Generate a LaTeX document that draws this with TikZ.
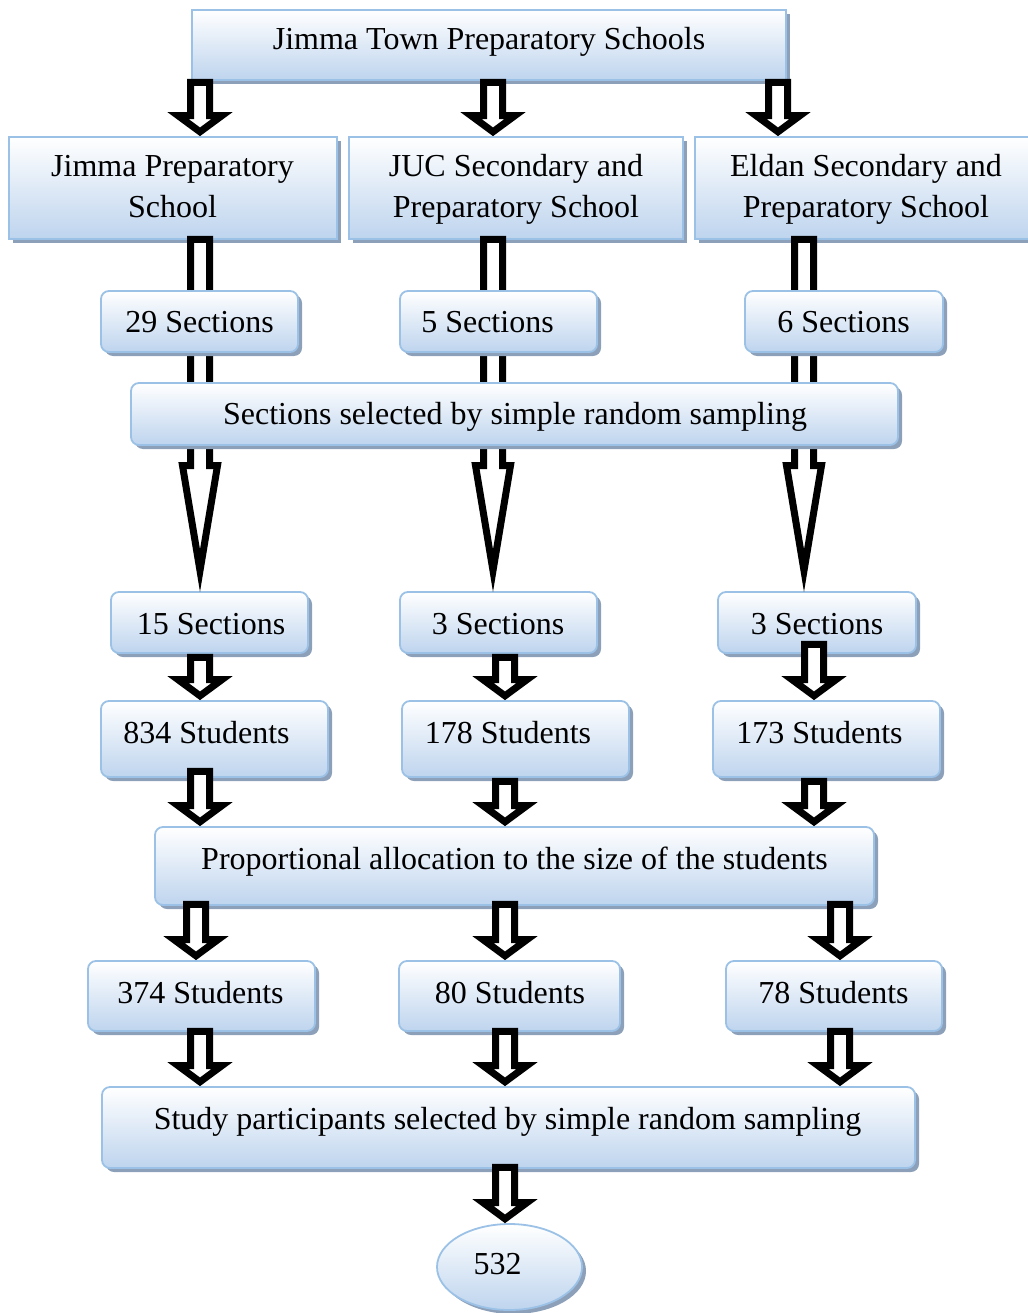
\documentclass[tikz,border=0pt]{standalone}
\usepackage{fontspec}
\setmainfont{Liberation Serif}
\usetikzlibrary{shadows,shapes.geometric,calc}
\definecolor{bbord}{RGB}{155,194,230}
\definecolor{bbot}{RGB}{190,212,238}
\definecolor{bshad}{RGB}{140,160,186}
\tikzset{
  boxbase/.style={draw=bbord, line width=1.8pt, top color=white, bottom color=bbot, inner sep=0pt,
    drop shadow={shadow xshift=4pt, shadow yshift=-4pt, fill=bshad, opacity=1}},
  sqbox/.style={boxbase, rectangle},
  rdbox/.style={boxbase, rectangle, rounded corners=8pt},
  ovbox/.style={boxbase, ellipse},
  txt/.style={font=\fontsize{32}{38}\selectfont, anchor=base, inner sep=0pt},
  barr/.style={draw=black, fill=white, line width=7pt, line join=miter},
}
% short block arrow: #1 x, #2 source node, #3 target node, #4 overlap into source
\newcommand\sarrow[4]{%
  \draw[barr] let \p1=(#2.south), \p2=(#3.north) in
    ({#1pt-9.5pt},{\y1+#4pt-3.5pt}) -- ({#1pt+9.5pt},{\y1+#4pt-3.5pt})
    -- ({#1pt+9.5pt},{\y2+20.5pt}) -- ({#1pt+22pt},{\y2+20.5pt})
    -- ({#1pt},{\y2+4.3pt})
    -- ({#1pt-22pt},{\y2+20.5pt}) -- ({#1pt-9.5pt},{\y2+20.5pt}) -- cycle;}
% long block arrow: #1 x, #2 source node, #3 target node
\newcommand\larrow[3]{%
  \draw[barr] let \p1=(#2.south), \p2=(#3.north) in
    ({#1pt-9.5pt},{\y1+0.5pt}) -- ({#1pt+9.5pt},{\y1+0.5pt})
    -- ({#1pt+9.5pt},{\y2+125.5pt}) -- ({#1pt+17.5pt},{\y2+125.5pt})
    -- ({#1pt},{\y2+20.5pt})
    -- ({#1pt-17.5pt},{\y2+125.5pt}) -- ({#1pt-9.5pt},{\y2+125.5pt}) -- cycle;}
\begin{document}
\begin{tikzpicture}[x=1pt,y=-1pt]
\useasboundingbox (0,0) rectangle (1027,1313);
% level 1 and schools
\node[sqbox, minimum width=594pt, minimum height=70pt] (top) at (489,45) {};
\node[sqbox, minimum width=328pt, minimum height=102pt] (s1) at (173,188) {};
\node[sqbox, minimum width=334pt, minimum height=102pt] (s2) at (516,188) {};
\node[sqbox, minimum width=334pt, minimum height=102pt] (s3) at (862,188) {};
\node[txt] (ttop) at (489,50) {Jimma Town Preparatory Schools};
\node[txt] (ts1a) at (172.5,177) {Jimma Preparatory};
\node[txt] (ts1b) at (172.5,218) {School};
\node[txt] (ts2a) at (516,177) {JUC Secondary and};
\node[txt] (ts2b) at (516,218) {Preparatory School};
\node[txt] (ts3a) at (866,177) {Eldan Secondary and};
\node[txt] (ts3b) at (866,218) {Preparatory School};
\sarrow{200}{top}{s1}{2}
\sarrow{493}{top}{s2}{2}
\sarrow{778}{top}{s3}{2}
% selected sections boxes
\node[rdbox, minimum width=197pt, minimum height=61pt] (c15) at (209.5,622.5) {};
\node[rdbox, minimum width=197pt, minimum height=61pt] (c3a) at (498.5,622.5) {};
\node[rdbox, minimum width=198pt, minimum height=61pt] (c3b) at (817,622.5) {};
\node[txt] (tc15) at (211,634) {15 Sections};
\node[txt] (tc3a) at (498,634) {3 Sections};
\node[txt] (tc3b) at (817,634) {3 Sections};
% long arrows behind section boxes
\larrow{200}{s1}{c15}
\larrow{493}{s2}{c3a}
\larrow{804}{s3}{c3b}
% section counts
\node[rdbox, minimum width=197pt, minimum height=61pt] (c29) at (199.5,321.5) {};
\node[rdbox, minimum width=197pt, minimum height=61pt] (c5) at (498.5,321.5) {};
\node[rdbox, minimum width=198pt, minimum height=61pt] (c6) at (844,321.5) {};
\node[txt] (tc29) at (199.5,332) {29 Sections};
\node[txt] (tc5) at (487.5,332) {5 Sections};
\node[txt] (tc6) at (843.5,332) {6 Sections};
\node[rdbox, minimum width=767pt, minimum height=62pt] (sel) at (514.5,414) {};
\node[txt] (tsel) at (515,424) {Sections selected by simple random sampling};
% students
\node[rdbox, minimum width=227pt, minimum height=76pt] (n834) at (214.5,739) {};
\node[rdbox, minimum width=227pt, minimum height=76pt] (n178) at (515.5,739) {};
\node[rdbox, minimum width=227pt, minimum height=76pt] (n173) at (826.5,739) {};
\node[txt] (tn834) at (206.5,743) {834 Students};
\node[txt] (tn178) at (508,743) {178 Students};
\node[txt] (tn173) at (819.5,743) {173 Students};
\sarrow{200}{c15}{n834}{0}
\sarrow{505}{c3a}{n178}{0}
\sarrow{814}{c3b}{n173}{13}
% proportional allocation
\node[rdbox, minimum width=719pt, minimum height=78pt] (prop) at (514.5,866) {};
\node[txt] (tprop) at (514.5,869) {Proportional allocation to the size of the students};
\sarrow{200}{n834}{prop}{10}
\sarrow{505}{n178}{prop}{0}
\sarrow{814}{n173}{prop}{0}
% allocated students
\node[rdbox, minimum width=227pt, minimum height=70pt] (n374) at (201.5,996) {};
\node[rdbox, minimum width=221pt, minimum height=70pt] (n80) at (509.5,996) {};
\node[rdbox, minimum width=216pt, minimum height=70pt] (n78) at (834,996) {};
\node[txt] (tn374) at (200.5,1003) {374 Students};
\node[txt] (tn80) at (510,1003) {80 Students};
\node[txt] (tn78) at (833.5,1003) {78 Students};
\sarrow{196}{prop}{n374}{5}
\sarrow{505}{prop}{n80}{5}
\sarrow{840}{prop}{n78}{5}
% study participants
\node[rdbox, minimum width=813pt, minimum height=81pt] (study) at (508.5,1127.5) {};
\node[txt] (tstudy) at (507.5,1129) {Study participants selected by simple random sampling};
\sarrow{200}{n374}{study}{4}
\sarrow{505}{n80}{study}{4}
\sarrow{840}{n78}{study}{4}
% total
\node[ovbox, minimum width=145pt, minimum height=86pt] (tot) at (509.5,1267) {};
\node[txt] (ttot) at (497.5,1274) {532};
\sarrow{505}{study}{tot}{5}
\end{tikzpicture}
\end{document}
